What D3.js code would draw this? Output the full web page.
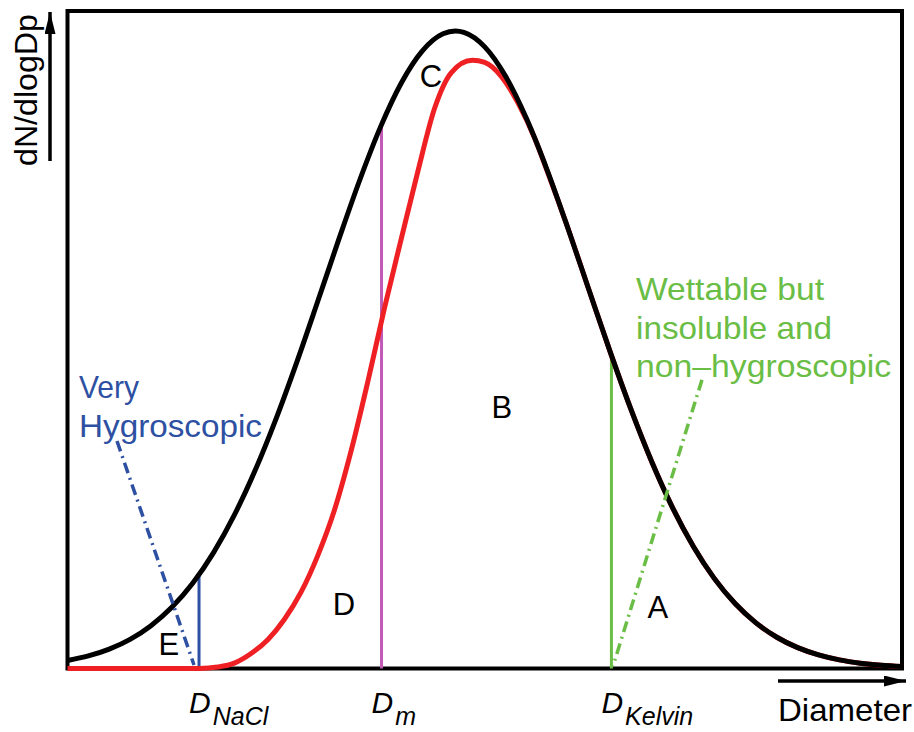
<!DOCTYPE html>
<html>
<head>
<meta charset="utf-8">
<script src="https://cdn.jsdelivr.net/npm/d3@7"></script>
<style>
  html, body { margin: 0; padding: 0; background: #fff; }
  svg { display: block; }
  text { font-family: "Liberation Sans", Arial, Helvetica, sans-serif; }
</style>
</head>
<body>
<svg id="chart" width="914" height="732"></svg>
<script>
// ---- data ----
const diameter = [0,2.5,5,7.5,10,12.5,15,17.5,20,22.5,25,27.5,30,32.5,35,37.5,40,42.5,45,46.5,47.5,50,52.5,55,57.5,60,62.5,65,67.5,70,72.5,75,77.5,80,82.5,85,87.5,90,92.5,95,97.5,100];
const totalConc = [1.21,1.91,2.95,4.43,6.51,9.30,12.96,17.63,23.36,30.18,38.01,46.68,55.89,65.22,74.22,82.34,89.06,93.91,96.54,96.96,96.75,94.54,90.06,83.64,75.74,66.84,57.53,48.27,39.48,31.49,24.48,18.56,13.71,9.88,6.94,4.75,3.17,2.07,1.31,0.81,0.49,0.29];

const activeDiameter = [0,15.8,18,20,22,24,26,28,30,32,34,36,38,40,42,44,46,48.5,50,52,54,56,57.5,60,62.5,65,67.5,70,72.5,75,77.5,80,82.5,85,87.5,90,92.5,95,97.5,100];
const activeConc = [0,0,0.22,0.82,2.27,4.38,7.49,11.64,17.21,24.14,33.16,43.69,54.90,65.37,75.69,85.24,90.64,92.5,92.18,90.03,85.98,80.6,75.6,66.84,57.53,48.27,39.48,31.49,24.48,18.56,13.71,9.88,6.94,4.75,3.17,2.07,1.31,0.81,0.49,0.29];

const markerNames = ["NaCl", "m", "Kelvin"];
const markerDiameters = [15.76, 37.63, 65.18];
const markerTops = [14.5, 82.6, 47.6];

const regionLabels = ["A", "B", "C", "D", "E"];
const regionX = [69.5, 50.8, 42.2, 31.8, 10.9];
const regionY = [7.7, 38.1, 88.4, 8.1, 2.0];

const blueLeader = [[5.93, 34.6], [15.16, 0.53]];
const greenLeader = [[76.03, 43.9], [65.37, 0.38]];

const blueText = ["Very", "Hygroscopic"];
const greenText = ["Wettable but", "insoluble and", "non\u2013hygroscopic"];

// ---- drawing ----
const svg = d3.select("#chart");
const x = d3.scaleLinear().domain([0, 100]).range([67.5, 902]);
const y = d3.scaleLinear().domain([0, 100]).range([668.5, 11]);

const BLUE = "#2e50a2", MAGENTA = "#c05ab6", GREEN = "#6abd45", RED = "#ee2024";

// frame
svg.append("rect")
  .attr("x", x(0)).attr("y", y(100))
  .attr("width", x(100) - x(0)).attr("height", y(0) - y(100))
  .attr("fill", "none").attr("stroke", "#000").attr("stroke-width", 4);

// vertical diameter markers
const markerColors = [BLUE, MAGENTA, GREEN];
svg.selectAll("line.marker").data(markerDiameters).enter().append("line")
  .attr("class", "marker")
  .attr("x1", d => x(d)).attr("x2", d => x(d))
  .attr("y1", y(0)).attr("y2", (d, i) => y(markerTops[i]))
  .attr("stroke", (d, i) => markerColors[i]).attr("stroke-width", 3);

const line = d3.line().curve(d3.curveMonotoneX);

// activated (red) distribution
svg.append("path")
  .attr("d", line(activeDiameter.map((d, i) => [x(d), y(activeConc[i])])))
  .attr("fill", "none").attr("stroke", RED).attr("stroke-width", 5)
  .attr("stroke-linejoin", "round");

// total (black) distribution
svg.append("path")
  .attr("d", line(diameter.map((d, i) => [x(d), y(totalConc[i])])))
  .attr("fill", "none").attr("stroke", "#000").attr("stroke-width", 5)
  .attr("stroke-linejoin", "round");

// dash-dot leaders
[[blueLeader, BLUE], [greenLeader, GREEN]].forEach(([pts, c]) => {
  svg.append("line")
    .attr("x1", x(pts[0][0])).attr("y1", y(pts[0][1]))
    .attr("x2", x(pts[1][0])).attr("y2", y(pts[1][1]))
    .attr("stroke", c).attr("stroke-width", 3.5)
    .attr("stroke-dasharray", "11,5,2,5");
});

// region letters
svg.selectAll("text.region").data(regionLabels).enter().append("text")
  .attr("class", "region")
  .attr("x", (d, i) => x(regionX[i])).attr("y", (d, i) => y(regionY[i]))
  .attr("font-size", 31).attr("fill", "#000").text(d => d);

// annotation texts
const blueLens = [60, 183];
svg.selectAll("text.blue").data(blueText).enter().append("text")
  .attr("class", "blue")
  .attr("x", 79).attr("y", (d, i) => 398 + i * 38.5)
  .attr("font-size", 32).attr("fill", BLUE)
  .attr("textLength", (d, i) => blueLens[i]).attr("lengthAdjust", "spacingAndGlyphs")
  .text(d => d);

const greenLens = [188, 196, 255];
svg.selectAll("text.green").data(greenText).enter().append("text")
  .attr("class", "green")
  .attr("x", 636).attr("y", (d, i) => 300 + i * 38.5)
  .attr("font-size", 32).attr("fill", GREEN)
  .attr("textLength", (d, i) => greenLens[i]).attr("lengthAdjust", "spacingAndGlyphs")
  .text(d => d);

// x labels D_xxx
markerDiameters.forEach((d, i) => {
  const t = svg.append("text")
    .attr("x", x(d) - 10).attr("y", 713)
    .attr("font-size", 30).attr("font-style", "italic").attr("fill", "#000");
  t.append("tspan").text("D");
  t.append("tspan").attr("dy", 12).attr("dx", 2).attr("font-size", 25).text(markerNames[i]);
});

// arrows
const defs = svg.append("defs");
defs.append("marker").attr("id", "arrow")
  .attr("viewBox", "0 0 22 11").attr("refX", 22).attr("refY", 5.5)
  .attr("markerWidth", 22).attr("markerHeight", 11)
  .attr("markerUnits", "userSpaceOnUse").attr("orient", "auto")
  .append("path").attr("d", "M0,0 L22,5.5 L0,11 Z").attr("fill", "#000");

svg.append("line")
  .attr("x1", 50).attr("y1", 161).attr("x2", 50).attr("y2", 12)
  .attr("stroke", "#000").attr("stroke-width", 3.5).attr("marker-end", "url(#arrow)");
svg.append("line")
  .attr("x1", 778).attr("y1", 681).attr("x2", 906).attr("y2", 681)
  .attr("stroke", "#000").attr("stroke-width", 3.5).attr("marker-end", "url(#arrow)");

svg.append("text")
  .attr("transform", "translate(37,166) rotate(-90)")
  .attr("font-size", 31).attr("fill", "#000")
  .attr("textLength", 152).attr("lengthAdjust", "spacingAndGlyphs")
  .text("dN/dlogDp");

svg.append("text")
  .attr("x", 778).attr("y", 721)
  .attr("font-size", 32).attr("fill", "#000")
  .attr("textLength", 134).attr("lengthAdjust", "spacingAndGlyphs")
  .text("Diameter");
</script>
</body>
</html>
